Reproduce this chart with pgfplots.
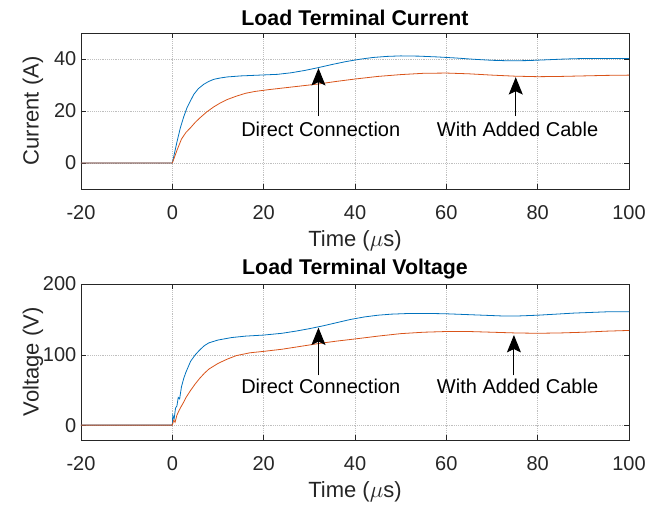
\documentclass[border=0pt]{standalone}
\usepackage{pgfplots}
\pgfplotsset{compat=1.18}
\usepackage{fontspec}
\setmainfont{Liberation Sans}
\usetikzlibrary{arrows.meta}

\definecolor{mblue}{rgb}{0,0.447,0.741}
\definecolor{morange}{rgb}{0.85,0.325,0.098}
\definecolor{axgray}{rgb}{0.15,0.15,0.15}

\tikzset{
  annot/.style={font=\fontsize{15}{18}\selectfont},
  arr/.style={-{Stealth[length=13pt,width=10.5pt,inset=2.5pt]}, line width=0.7pt},
}
\pgfplotsset{
  mstyle/.style={
    scale only axis,
    width=411pt, height=117pt,
    xmin=-20, xmax=100,
    xtick={-20,0,...,100},
    grid=major,
    major grid style={densely dotted, gray!50, line width=0.5pt},
    axis line style={axgray, line width=0.5pt},
    tick style={axgray, line width=0.5pt},
    tick align=inside,
    major tick length=4pt,
    ticklabel style={font=\fontsize{15}{18}\selectfont, text=axgray},
    xticklabel style={yshift=-8.5pt},
    title style={font=\bfseries\fontsize{16}{19}\selectfont,
      at={(axis description cs:0.5,1)}, anchor=center, yshift=5.25pt},
    every axis x label/.style={at={(axis description cs:0.5,0)},
      anchor=center, yshift=-38.5pt,
      font=\fontsize{16.5}{19}\selectfont, text=axgray},
    every axis y label/.style={at={(axis description cs:0,0.5)},
      xshift=-36pt, rotate=90, anchor=center,
      font=\fontsize{16.5}{19}\selectfont, text=axgray},
    /pgf/number format/assume math mode=true,
    xlabel={Time ($\mu$s)},
    every axis plot/.append style={line width=0.6pt},
  },
}

\begin{document}
\begin{tikzpicture}
\useasboundingbox (-60.75pt,-51pt) rectangle (430.5pt,330pt);

% top: current
\begin{axis}[mstyle, at={(0,188.25pt)},
  ymin=-10, ymax=50, ytick={0,20,40},
  ylabel={Current (A)},
  title={Load Terminal Current}]
\addplot[mblue] coordinates {
  (-20,0) (0,0) (1,8) (1.75,13.5) (2.5,17.8) (3.2,21.2) (4,24) (4.7,26.4)
  (5.7,28.6) (6.9,30.3) (8,31.4) (9.1,32.2) (10.5,32.7) (12,33.1) (15,33.5)
  (19,33.8) (23,34.1) (26,34.7) (29,35.6) (32,36.7) (35,37.9) (38,39)
  (41,39.9) (44,40.6) (47,41) (50,41.2) (54,41.1) (58,40.8) (62,40.4)
  (66,39.9) (70,39.5) (74,39.3) (78,39.4) (82,39.7) (86,40) (90,40.2)
  (95,40.2) (100,40.2)
};
\addplot[morange] coordinates {
  (-20,0) (0,0) (1,4.8) (2,9.2) (3,11.8) (4,13.6) (5,15.6) (6,17.3)
  (7.5,19.6) (9,21.5) (10.5,23.1) (12,24.4) (14,25.7) (16,26.8) (18,27.5)
  (21,28.2) (24,28.8) (28,29.6) (32,30.4) (36,31.4) (40,32.3) (45,33.3)
  (50,34) (55,34.5) (60,34.6) (65,34.3) (70,33.8) (75,33.4) (80,33.2)
  (85,33.3) (90,33.5) (95,33.7) (100,33.8)
};
\draw[arr] (axis cs:32,18) -- (axis cs:32,36.5);
\draw[arr] (axis cs:75.2,18) -- (axis cs:75.2,33);
\node[annot] at (axis cs:32.5,12.8) {Direct Connection};
\node[annot] at (axis cs:75.6,12.8) {With Added Cable};
\end{axis}

% bottom: voltage
\begin{axis}[mstyle, at={(0,0)},
  ymin=-20, ymax=200, ytick={0,100,200},
  ylabel={Voltage (V)},
  title={Load Terminal Voltage}]
\addplot[mblue] coordinates {
  (-20,1) (0,1) (0.1,15) (0.4,10) (0.7,25) (1,28) (1.3,40) (1.6,38) (2,55)
  (2.5,67) (3,76) (4,91) (5,100) (6,107) (7,113) (8,117) (10,121)
  (13,124.5) (16,126.5) (20,128) (24,130.5) (27,133.5) (30,137) (33,141)
  (36,145.5) (39,150) (42,153.5) (45,156) (48,157.5) (52,158.5) (56,158.5)
  (60,158) (64,157) (68,156) (72,155) (76,155) (80,156) (84,157.5)
  (88,159) (92,160) (96,161) (100,161)
};
\addplot[morange] coordinates {
  (-20,1) (0,1) (0.3,8) (0.6,5) (1,15) (1.5,22) (2,28) (2.5,33.5) (3,40)
  (4,50) (5,59) (6,67) (7,74) (8,80) (10,88) (12,94) (14,99) (17,103)
  (20,105) (24,108) (28,112) (32,116) (36,119.5) (40,122.5) (45,126.5)
  (50,130) (55,132) (60,133) (65,133) (70,132) (75,131) (80,130.5)
  (85,131) (90,132) (95,133.5) (100,134.5)
};
\draw[arr] (axis cs:32,71) -- (axis cs:32,138.5);
\draw[arr] (axis cs:74.8,71) -- (axis cs:74.8,128);
\node[annot] at (axis cs:32.5,55) {Direct Connection};
\node[annot] at (axis cs:75.6,55) {With Added Cable};
\end{axis}
\end{tikzpicture}
\end{document}
